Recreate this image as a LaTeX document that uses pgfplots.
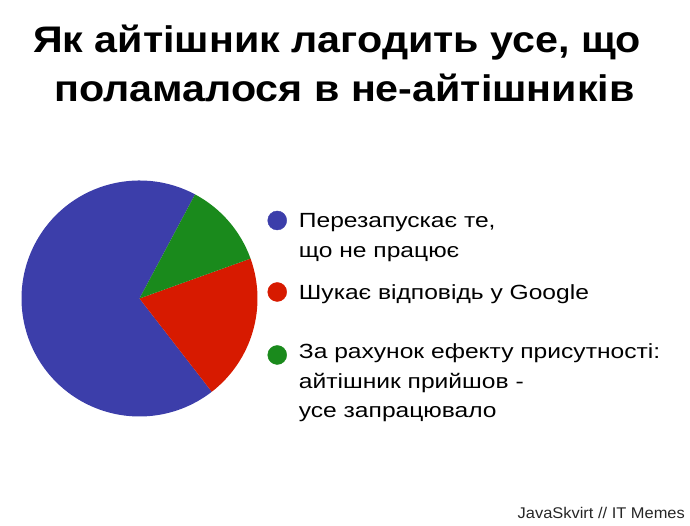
\documentclass[border=0pt]{standalone}
\usepackage{pgfplots}
\usepackage{pgfplotstable}
\pgfplotsset{compat=1.18}
\usepackage{fontspec}
\setmainfont{Liberation Sans}
\definecolor{pieblue}{HTML}{3C3EAA}
\definecolor{piered}{HTML}{D71A00}
\definecolor{piegreen}{HTML}{1A8A1C}

\pgfplotstableread{
label value color
restart 68.3 pieblue
google 20.0 piered
presence 11.7 piegreen
}\piedata

\newcommand\legfont{\fontsize{20.5}{29.5}\selectfont}
\newcommand\legtext[1]{\scalebox{1.2}[1]{\begin{tabular}[t]{@{}l@{}}#1\end{tabular}}}

\begin{document}
\begin{tikzpicture}
\path[use as bounding box] (0pt,0pt) rectangle (690pt,526pt);

\node[anchor=base, font=\bfseries\fontsize{37}{37}\selectfont, inner sep=0pt] at (337pt,473pt) {\scalebox{1.115}[1]{Як айтішник лагодить усе, що}};
\node[anchor=base, font=\bfseries\fontsize{37}{37}\selectfont, inner sep=0pt] at (344.5pt,424pt) {\scalebox{1.115}[1]{поламалося в не-айтішників}};

\begin{axis}[
  at={(21.5pt,109.5pt)}, anchor=south west,
  scale only axis, width=236pt, height=236pt,
  xmin=-1, xmax=1, ymin=-1, ymax=1,
  hide axis,
  legend cell align=left,
  legend style={
    at={(1.0424,0.8835)}, anchor=north west,
    draw=none, fill=none, inner sep=0pt, outer sep=0pt,
    row sep=0pt, column sep=12pt,
    cells={anchor=base west},
    nodes={inner sep=0pt, outer sep=0pt, text depth=, text height=, font=\legfont},
  },
]
\pgfmathsetmacro\startangle{61.9}
\pgfplotsforeachungrouped \i in {0,1,2}{%
  \pgfplotstablegetelem{\i}{value}\of\piedata
  \pgfmathsetmacro\sweep{3.6*\pgfplotsretval}%
  \pgfplotstablegetelem{\i}{color}\of\piedata
  \let\col\pgfplotsretval
  \pgfmathsetmacro\endangle{\startangle+\sweep}%
  \edef\temp{\noexpand\fill[\col] (axis cs:0,0) -- (axis cs:{cos(\startangle)},{sin(\startangle)}) arc[start angle=\startangle, end angle=\endangle, radius=118pt] -- cycle;}%
  \temp
  \global\let\startangle\endangle
}

\addlegendimage{legend image code/.code={\fill[pieblue] (9.5pt,7.5pt) circle (9.5pt);}}
\addlegendentry{\raisebox{0pt}[20pt][52pt]{\legtext{Перезапускає те,\\що не працює}}}
\addlegendimage{legend image code/.code={\fill[piered] (9.5pt,8pt) circle (9.5pt);}}
\addlegendentry{\raisebox{0pt}[20pt][39pt]{\legtext{Шукає відповідь у Google}}}
\addlegendimage{legend image code/.code={\fill[piegreen] (9.5pt,4pt) circle (9.5pt);}}
\addlegendentry{\raisebox{0pt}[20pt][60pt]{\legtext{За рахунок ефекту присутності:\\айтішник прийшов -\\усе запрацювало}}}
\end{axis}

\node[anchor=base east, font=\fontsize{15.5}{15.5}\selectfont, text=black!85, inner sep=0pt] at (685pt,7pt) {\scalebox{1.06}[1]{JavaSkvirt // IT Memes}};
\end{tikzpicture}
\end{document}
